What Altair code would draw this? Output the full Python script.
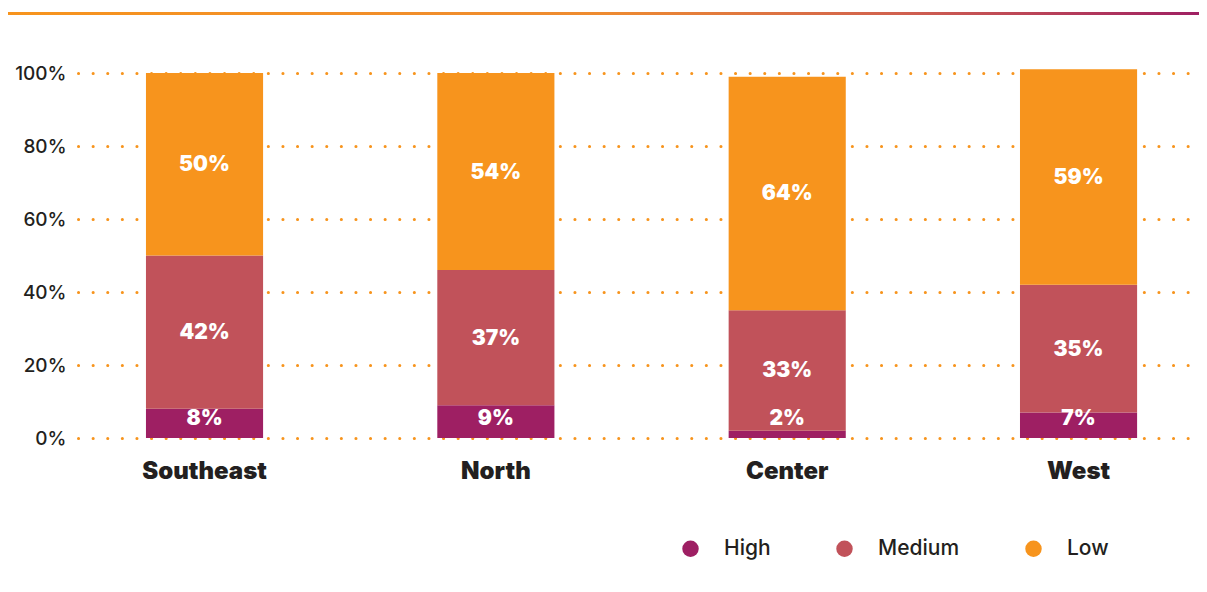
import altair as alt
import pandas as pd

regions = ["Southeast", "North", "Center", "West"]
levels = ["High", "Medium", "Low"]
high = [8, 9, 2, 7]
medium = [42, 37, 33, 35]
low = [50, 54, 64, 59]
level_colors = ["#9e1f63", "#c1525a", "#f7941d"]
y_ticks = [0, 20, 40, 60, 80, 100]

rows = []
for i, r in enumerate(regions):
    for j, (lvl, vals) in enumerate(zip(levels, [high, medium, low])):
        rows.append({"region": r, "level": lvl, "order": j, "value": vals[i]})
df = pd.DataFrame(rows)

FONT = "Inter"
DARK = "#231f20"

base = alt.Chart(df).transform_stack(
    stack="value",
    groupby=["region"],
    as_=["v0", "v1"],
    sort=[alt.SortField("order", order="ascending")],
)

x_enc = alt.X(
    "region:N",
    sort=regions,
    scale=alt.Scale(paddingInner=0.598, paddingOuter=0.216, align=0.54),
    axis=alt.Axis(
        title=None, domain=False, ticks=False, labelAngle=0,
        labelFont=FONT, labelFontSize=24, labelFontWeight=900,
        labelColor=DARK, labelPadding=21,
    ),
)

bars = base.mark_bar(opacity=1).encode(
    x=x_enc,
    y=alt.Y(
        "v0:Q",
        scale=alt.Scale(domain=[0, 100], nice=False),
        axis=alt.Axis(
            values=y_ticks, labelExpr="datum.value + '%'", title=None,
            grid=True, gridColor="#f7941d", gridDash=[0.1, 14.5], gridWidth=3,
            gridCap="round", domain=False, ticks=False, labelPadding=12,
            labelFont=FONT, labelFontSize=19, labelColor=DARK, labelFontWeight=500,
        ),
    ),
    y2="v1:Q",
    color=alt.Color(
        "level:N",
        scale=alt.Scale(domain=levels, range=level_colors),
        legend=alt.Legend(
            title=None, orient="none", legendX=602, legendY=465,
            direction="horizontal", symbolType="circle", symbolSize=270,
            symbolStrokeWidth=0, labelFont=FONT, labelFontSize=21,
            labelFontWeight=500, labelColor=DARK, labelOffset=23,
            columnPadding=63,
        ),
    ),
)

labels = base.transform_calculate(
    mid="max((datum.v0 + datum.v1) / 2, 5.5)",
    label="datum.value + '%'",
).mark_text(
    color="white", font=FONT, fontSize=21, fontWeight=900, baseline="middle", dy=1
).encode(
    x=alt.X("region:N", sort=regions),
    y=alt.Y("mid:Q"),
    text="label:N",
)

gradient = alt.Gradient(
    gradient="linear",
    stops=[
        alt.GradientStop(color="#f7941d", offset=0),
        alt.GradientStop(color="#ee8b30", offset=0.5),
        alt.GradientStop(color="#d0604f", offset=0.75),
        alt.GradientStop(color="#9e1f63", offset=1),
    ],
    x1=0, x2=1, y1=0, y2=0,
)
top_line = alt.Chart(pd.DataFrame({"a": [0]})).mark_rect(fill=gradient).encode(
    x=alt.value(-74), x2=alt.value(1125), y=alt.value(-61), y2=alt.value(-58)
)

chart = alt.layer(bars, labels, top_line).properties(
    width=1117,
    height=365,
    padding={"left": 70, "top": 65, "right": 4, "bottom": 130},
    autosize=alt.AutoSizeParams(type="none"),
).configure_view(stroke=None)

chart.save("out.html", embed_options={"renderer": "svg", "actions": False})
